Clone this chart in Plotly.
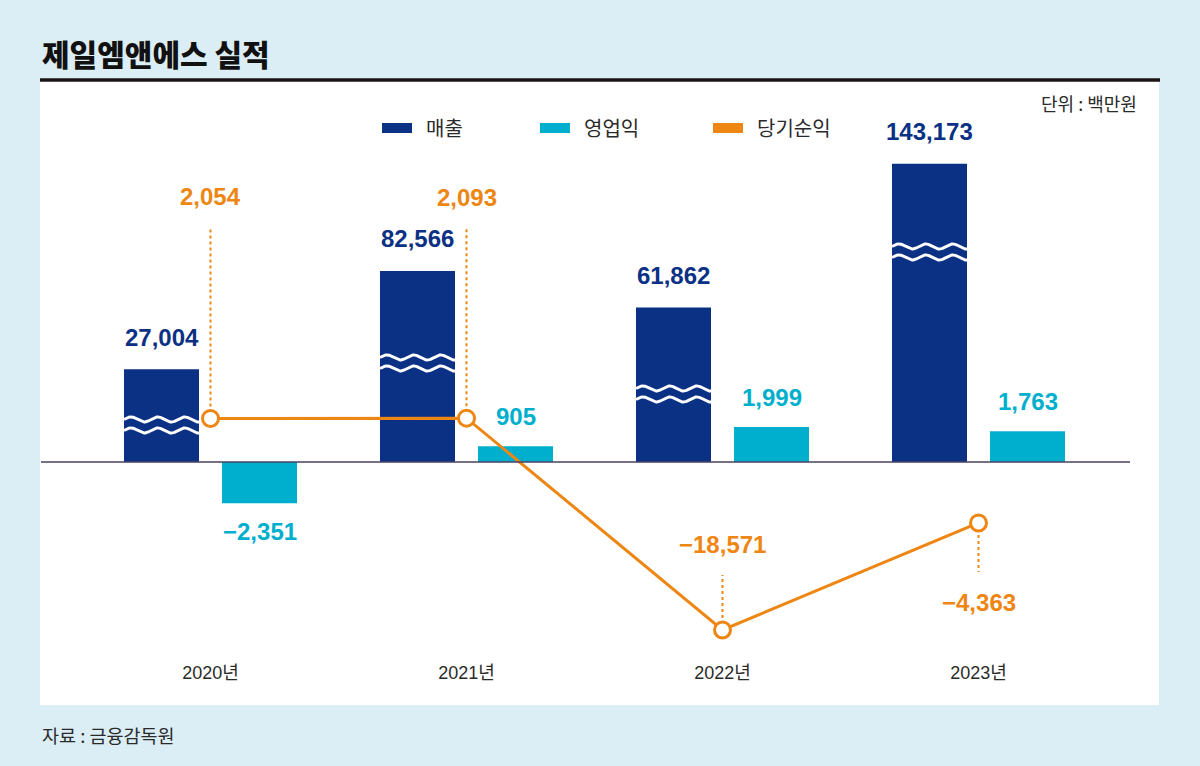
import numpy as np
import plotly.graph_objects as go

# ---------------- data ----------------
years = ["2020년", "2021년", "2022년", "2023년"]
revenue = [27004, 82566, 61862, 143173]            # 매출
operating_profit = [-2351, 905, 1999, 1763]        # 영업익
net_income = [2054, 2093, -18571, -4363]           # 당기순익
series_names = ["매출", "영업익", "당기순익"]
title_text = "제일엠앤에스 실적"
unit_text = "단위 : 백만원"
source_text = "자료 : 금융감독원"

# ---------------- style / geometry ----------------
W, H = 1200, 766
NAVY = "#0b3185"
CYAN = "#00afcd"
ORANGE = "#ee8614"
BG = "#dbedf5"
TXT = "#2a2a2a"
NUM_FONT = "Liberation Sans, Arial, sans-serif"
KR_FONT = "Noto Sans CJK KR, sans-serif"

BASE_PX = 462          # pixel row of the zero line
PLOT_BOTTOM_PX = 660   # bottom of plotting domain
CAT_PX = 256           # pixels per category
FIRST_CAT_PX = 210.5   # pixel x of first category centre
BAR_W = 75 / CAT_PX
DX = 49 / CAT_PX       # bar centre offset from category centre

S_OP = 0.0175          # px per unit, 영업익 axis
S_REV = 0.00177        # px per unit, 매출 axis (broken)
REV_BREAK = 25400      # units hidden by the axis break
S_NI = 0.00753         # px per unit, 당기순익 axis (broken)
NI_BREAK = 3730

WAVE_PX = [37, 99, 68, 210]          # height of break marks above zero line
NI_LABEL_SHIFT = [222, 221, 85, -80]
NI_LEADER_PX = [189, 189, 55, -49]


def yrange(scale, v0=0.0):
    return [v0 - (PLOT_BOTTOM_PX - BASE_PX) / scale, v0 + BASE_PX / scale]


def fmt(v):
    return f"{v:,}".replace("-", "−")


x = np.arange(len(years))
x0 = -FIRST_CAT_PX / CAT_PX
x_range = [x0, x0 + W / CAT_PX]

# broken scale for net income (symmetric around zero)
ni_disp = [np.sign(v) * (NI_BREAK + abs(v)) for v in net_income]

fig = go.Figure()

# revenue bars (broken axis: bars start below the break, end at the value)
fig.add_trace(go.Bar(
    x=x, y=[v + REV_BREAK for v in revenue], base=[-REV_BREAK] * len(x), yaxis="y2",
    offset=-DX - BAR_W / 2, width=BAR_W, marker=dict(color=NAVY, line_width=0),
    customdata=revenue, hovertemplate="%{customdata:,}<extra></extra>",
    name=series_names[0], showlegend=False,
))
# operating profit bars
fig.add_trace(go.Bar(
    x=x, y=operating_profit, yaxis="y",
    offset=DX - BAR_W / 2, width=BAR_W, marker=dict(color=CYAN, line_width=0),
    name=series_names[1], showlegend=False,
))

# break marks (white waves) on revenue bars
for i in range(len(x)):
    xc = x[i] - DX
    xs = np.linspace(xc - BAR_W / 2, xc + BAR_W / 2, 90)
    phase = (xs - xs[0]) * CAT_PX / 27.0 * 2 * np.pi
    for dy in (-5.5, 5.5):
        ys_px = WAVE_PX[i] + dy + 2.6 * np.sin(phase)
        fig.add_trace(go.Scatter(
            x=xs, y=-REV_BREAK + ys_px / S_REV, yaxis="y2", mode="lines",
            line=dict(color="white", width=3), hoverinfo="skip", showlegend=False,
        ))

# leader lines for net income labels
for i in range(len(x)):
    y_end = ni_disp[i] + NI_LEADER_PX[i] / S_NI
    fig.add_trace(go.Scatter(
        x=[x[i], x[i]], y=[ni_disp[i], y_end], yaxis="y3", mode="lines",
        line=dict(color=ORANGE, width=2, dash="dot"), hoverinfo="skip", showlegend=False,
    ))

# net income line
fig.add_trace(go.Scatter(
    x=x, y=ni_disp, yaxis="y3", mode="lines+markers",
    line=dict(color=ORANGE, width=3),
    marker=dict(size=16, color="white", line=dict(color=ORANGE, width=3)),
    customdata=net_income, hovertemplate="%{customdata:,}<extra></extra>",
    name=series_names[2], showlegend=False, cliponaxis=False,
))

annotations = []
# value labels
for i in range(len(x)):
    annotations.append(dict(
        x=x[i] - DX, y=revenue[i], yref="y2", xref="x", text=fmt(revenue[i]),
        showarrow=False, yshift=32, yanchor="middle",
        font=dict(family=NUM_FONT, size=24, color=NAVY, weight="bold"),
    ))
    op = operating_profit[i]
    annotations.append(dict(
        x=x[i] + DX, y=op, yref="y", xref="x", text=fmt(op),
        showarrow=False, yshift=30 if op >= 0 else -28, yanchor="middle",
        font=dict(family=NUM_FONT, size=24, color=CYAN, weight="bold"),
    ))
    annotations.append(dict(
        x=x[i], y=ni_disp[i], yref="y3", xref="x", text=fmt(net_income[i]),
        showarrow=False, yshift=NI_LABEL_SHIFT[i], yanchor="middle",
        font=dict(family=NUM_FONT, size=24, color=ORANGE, weight="bold"),
    ))

# title, unit, source
annotations += [
    dict(x=40 / W, y=1 - 53 / H, xref="paper", yref="paper", xanchor="left", yanchor="middle",
         text=title_text, showarrow=False,
         font=dict(family=KR_FONT, size=30, color="#111111", weight=900)),
    dict(x=1139 / W, y=1 - 103 / H, xref="paper", yref="paper", xanchor="right", yanchor="middle",
         text=unit_text, showarrow=False, font=dict(family=KR_FONT, size=18, color=TXT)),
    dict(x=40 / W, y=1 - 735 / H, xref="paper", yref="paper", xanchor="left", yanchor="middle",
         text=source_text, showarrow=False, font=dict(family=KR_FONT, size=18.5, color=TXT)),
]

# custom legend
legend_items = [(382, NAVY, series_names[0]), (540, CYAN, series_names[1]), (713, ORANGE, series_names[2])]
shapes = [
    # white panel
    dict(type="rect", xref="paper", yref="paper", x0=40 / W, x1=1159 / W,
         y0=1 - 705 / H, y1=1 - 80 / H, fillcolor="white", line_width=0, layer="below"),
    # black title rule
    dict(type="line", xref="paper", yref="paper", x0=40 / W, x1=1160 / W,
         y0=1 - 80 / H, y1=1 - 80 / H, line=dict(color="#1a1414", width=3.5)),
    # zero line
    dict(type="line", xref="paper", yref="y", x0=41 / W, x1=1130 / W, y0=0, y1=0,
         line=dict(color="#4b4060", width=1.5), layer="above"),
]
for lx, col, name in legend_items:
    shapes.append(dict(type="rect", xref="paper", yref="paper", x0=lx / W, x1=(lx + 30) / W,
                       y0=1 - 133 / H, y1=1 - 123 / H, fillcolor=col, line_width=0))
    annotations.append(dict(x=(lx + 42) / W, y=1 - 128 / H, xref="paper", yref="paper",
                            xanchor="left", yanchor="middle", text=name, showarrow=False,
                            font=dict(family=KR_FONT, size=20, color=TXT)))

dom_y = [1 - PLOT_BOTTOM_PX / H, 1]
fig.update_layout(
    width=W, height=H, margin=dict(l=0, r=0, t=0, b=0),
    paper_bgcolor=BG, plot_bgcolor="rgba(0,0,0,0)",
    barmode="overlay", showlegend=False,
    xaxis=dict(range=x_range, tickmode="array", tickvals=list(x), ticktext=years,
               showgrid=False, zeroline=False, showline=False, ticks="",
               tickfont=dict(family="Liberation Sans, Noto Sans CJK KR, sans-serif", size=18, color=TXT),
               fixedrange=True),
    yaxis=dict(domain=dom_y, range=yrange(S_OP), showgrid=False, zeroline=False,
               showticklabels=False, fixedrange=True),
    yaxis2=dict(domain=dom_y, range=yrange(S_REV, -REV_BREAK), overlaying="y", showgrid=False,
                zeroline=False, showticklabels=False, fixedrange=True),
    yaxis3=dict(domain=dom_y, range=yrange(S_NI), overlaying="y", showgrid=False,
                zeroline=False, showticklabels=False, fixedrange=True),
    annotations=annotations, shapes=shapes,
)

fig.write_html(
    "out.html",
    config={"displayModeBar": False},
    post_script=f"document.body.style.margin='0';document.body.style.background='{BG}';",
)
